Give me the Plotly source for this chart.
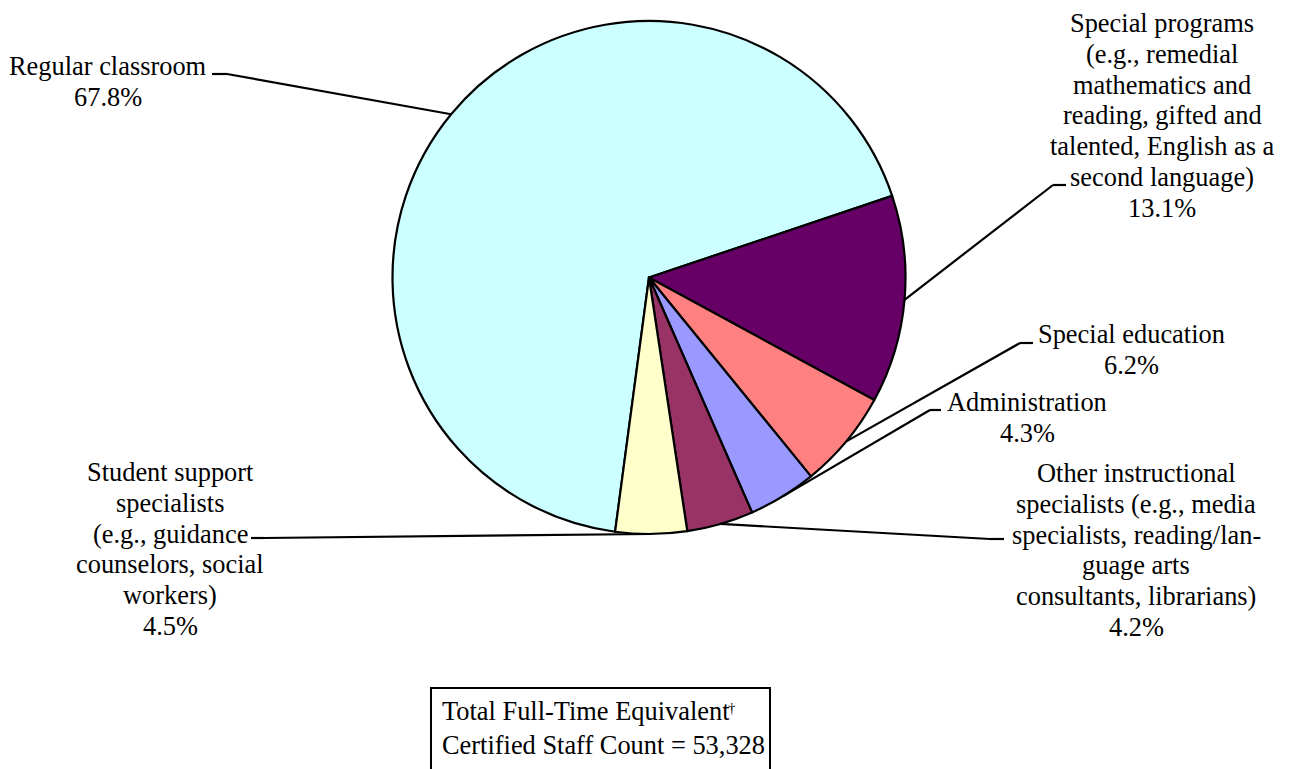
import math
import plotly.graph_objects as go

# Certified staff by assignment (percent of FTE)
categories = [
    "Regular classroom",
    "Special programs",
    "Special education",
    "Administration",
    "Other instructional specialists",
    "Student support specialists",
]
shares = [67.8, 13.1, 6.2, 4.3, 4.2, 4.5]
slice_colors = ["#CCFFFF", "#660066", "#FF8080", "#9999FF", "#993366", "#FFFFCC"]

# slice labels, one entry per printed line
label_lines = [
    ["Regular classroom", "67.8%"],
    ["Special programs", "(e.g., remedial", "mathematics and", "reading, gifted and",
     "talented, English as a", "second language)", "13.1%"],
    ["Special education", "6.2%"],
    ["Administration", "4.3%"],
    ["Other instructional", "specialists (e.g., media", "specialists, reading/lan-",
     "guage arts", "consultants, librarians)", "4.2%"],
    ["Student support", "specialists", "(e.g., guidance", "counselors, social",
     "workers)", "4.5%"],
]
total_fte = "53,328"
box_lines = ["Total Full-Time Equivalent", f"Certified Staff Count = {total_fte}"]

W, H = 1290, 769
FONT = "Liberation Serif"
FS = 26.4
LINE_STEP = 30.8

# pie geometry in pixels
CX, CY, R = 649.0, 277.5, 256.5
ROTATION = 187.6

# label placement: centre x and first-line centre y (px)
label_pos = [
    (108, 66),
    (1162, 23),
    (1131, 334),
    (1027, 402),
    (1136, 473),
    (170, 472),
]
# leader-line elbow: (elbow point, end of the short horizontal stub), px
stubs = [
    ((227, 74), (212, 74)),
    ((1053, 185), (1066, 185)),
    ((1020, 343), (1033, 343)),
    ((930, 410), (941, 410)),
    ((990, 539), (1004, 539)),
    ((264, 538), (251, 538)),
]


def px(x):
    return x / W


def py(y):
    return 1 - y / H


fig = go.Figure(
    go.Pie(
        labels=categories,
        values=shares,
        sort=False,
        direction="clockwise",
        rotation=ROTATION,
        textinfo="none",
        hoverinfo="label+percent",
        marker=dict(colors=slice_colors, line=dict(color="black", width=2.2)),
        domain=dict(
            x=[px(CX - R), px(CX + R)],
            y=[py(CY + R), py(CY - R)],
        ),
        showlegend=False,
    )
)

# leader lines: from slice mid-angle on the rim to the label stub
total = sum(shares)
cum = 0.0
shapes = []
for i, v in enumerate(shares):
    mid = ROTATION + 360.0 * (cum + v / 2.0) / total
    cum += v
    a = math.radians(mid)
    ex, ey = CX + R * math.sin(a), CY - R * math.cos(a)
    (sx, sy), (tx, ty) = stubs[i]
    shapes.append(dict(type="line", xref="paper", yref="paper",
                       x0=px(ex), y0=py(ey), x1=px(sx), y1=py(sy),
                       line=dict(color="black", width=2.2)))
    shapes.append(dict(type="line", xref="paper", yref="paper",
                       x0=px(sx), y0=py(sy), x1=px(tx), y1=py(ty),
                       line=dict(color="black", width=2.2)))

# total box (open at the bottom edge of the page)
shapes.append(dict(type="rect", xref="paper", yref="paper",
                   x0=px(431), x1=px(770), y0=py(800), y1=py(688),
                   line=dict(color="black", width=2), fillcolor="rgba(0,0,0,0)"))

annotations = []
for (lx, ly), lines in zip(label_pos, label_lines):
    for k, line in enumerate(lines):
        annotations.append(dict(x=px(lx), y=py(ly + k * LINE_STEP),
                                xref="paper", yref="paper",
                                text=line, showarrow=False, align="center",
                                xanchor="center", yanchor="middle",
                                font=dict(family=FONT, size=FS, color="black")))

for k, line in enumerate(box_lines):
    annotations.append(dict(x=px(440), y=py(711 + k * 34), xref="paper", yref="paper",
                            text=line, showarrow=False, align="left",
                            xanchor="left", yanchor="middle",
                            font=dict(family=FONT, size=FS, color="black")))
# footnote dagger after "Equivalent"
annotations.append(dict(x=px(727), y=py(708), xref="paper", yref="paper",
                        text="†", showarrow=False, xanchor="left", yanchor="middle",
                        borderpad=0,
                        font=dict(family=FONT, size=15, color="black")))

fig.update_layout(
    width=W, height=H,
    margin=dict(l=0, r=0, t=0, b=0),
    paper_bgcolor="white",
    plot_bgcolor="white",
    font=dict(family=FONT, color="black"),
    shapes=shapes,
    annotations=annotations,
)

fig.write_html("out.html")
